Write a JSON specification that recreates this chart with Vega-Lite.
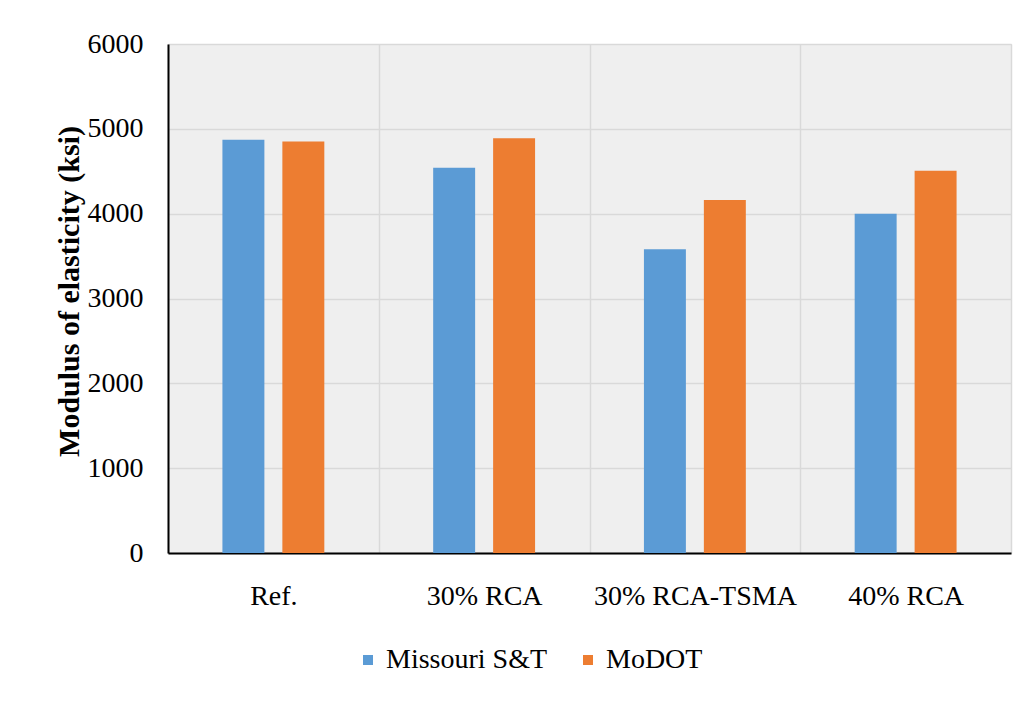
{
  "$schema": "https://vega.github.io/schema/vega-lite/v6.json",
  "width": 843,
  "height": 509,
  "autosize": {"type": "none"},
  "padding": {"left": 168, "top": 44, "right": 22, "bottom": 149},
  "background": "white",
  "config": {
    "view": {"fill": "#efefef", "stroke": "#d9d9d9"},
    "font": "Liberation Serif"
  },
  "data": {
    "values": [
      {"mix": "Ref.", "source": "Missouri S&T", "value": 4870},
      {"mix": "Ref.", "source": "MoDOT", "value": 4850},
      {"mix": "30% RCA", "source": "Missouri S&T", "value": 4540},
      {"mix": "30% RCA", "source": "MoDOT", "value": 4890},
      {"mix": "30% RCA-TSMA", "source": "Missouri S&T", "value": 3580},
      {"mix": "30% RCA-TSMA", "source": "MoDOT", "value": 4160},
      {"mix": "40% RCA", "source": "Missouri S&T", "value": 4000},
      {"mix": "40% RCA", "source": "MoDOT", "value": 4505}
    ]
  },
  "mark": {"type": "bar"},
  "encoding": {
    "x": {
      "field": "mix",
      "type": "nominal",
      "sort": ["Ref.", "30% RCA", "30% RCA-TSMA", "40% RCA"],
      "scale": {"paddingInner": 0, "paddingOuter": 0},
      "axis": {
        "title": null,
        "labelAngle": 0,
        "labelLimit": 0,
        "tickBand": "extent",
        "grid": true,
        "gridColor": "#d9d9d9",
        "gridWidth": 1.5,
        "ticks": false,
        "domainColor": "black",
        "domainWidth": 2,
        "labelFont": "Liberation Serif",
        "labelFontSize": 28,
        "labelColor": "black",
        "labelPadding": 29
      }
    },
    "xOffset": {
      "field": "source",
      "type": "nominal",
      "sort": ["Missouri S&T", "MoDOT"],
      "scale": {"paddingInner": 0.3, "paddingOuter": 0.908}
    },
    "y": {
      "field": "value",
      "type": "quantitative",
      "scale": {"domain": [0, 6000]},
      "axis": {
        "values": [0, 1000, 2000, 3000, 4000, 5000, 6000],
        "format": "d",
        "title": "Modulus of elasticity (ksi)",
        "titleFont": "Liberation Serif",
        "titleFontWeight": "bold",
        "titleFontSize": 30,
        "titleColor": "black",
        "titleAngle": -90,
        "titleAlign": "center",
        "titleBaseline": "middle",
        "titleX": -99,
        "titleY": 247,
        "grid": true,
        "gridColor": "#d9d9d9",
        "gridWidth": 1.5,
        "ticks": false,
        "domainColor": "black",
        "domainWidth": 2,
        "labelFont": "Liberation Serif",
        "labelFontSize": 28,
        "labelColor": "black",
        "labelPadding": 25
      }
    },
    "color": {
      "field": "source",
      "type": "nominal",
      "scale": {"domain": ["Missouri S&T", "MoDOT"], "range": ["#5B9BD5", "#ED7D31"]},
      "legend": {
        "title": null,
        "orient": "none",
        "direction": "horizontal",
        "legendX": 186,
        "legendY": 602,
        "symbolType": "square",
        "symbolSize": 100,
        "symbolStrokeWidth": 0,
        "labelFont": "Liberation Serif",
        "labelFontSize": 28,
        "labelColor": "black",
        "labelLimit": 0,
        "labelOffset": 4,
        "columnPadding": 26
      }
    }
  }
}
